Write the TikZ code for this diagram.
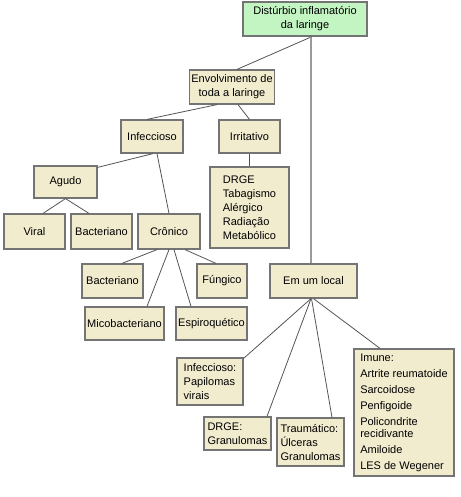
\documentclass[tikz,border=0pt]{standalone}
\usepackage{fontspec}
\setmainfont{Liberation Sans}
\definecolor{boxfill}{HTML}{F2ECCF}
\definecolor{rootfill}{HTML}{C3F5C3}
\definecolor{boxline}{HTML}{747474}
\definecolor{linkline}{HTML}{555555}
\definecolor{trunkline}{HTML}{9A9A9A}
\tikzset{
  box/.style={draw=boxline, fill=boxfill, line width=1.2pt, inner sep=2pt,
    font=\fontsize{11}{14}\selectfont, align=center},
  rootbox/.style={box, fill=rootfill},
  listbox/.style={box, align=left},
  link/.style={draw=linkline, line width=0.8pt},
  trunk/.style={draw=trunkline, line width=1.8pt}
}
\begin{document}
\begin{tikzpicture}[x=1pt,y=-1pt]

\fill[white] (0,0) rectangle (460,497);
\useasboundingbox (0,0) rectangle (460,497);

%ROOT
\node[rootbox, minimum width=124pt, minimum height=34pt] (root) at (305,19) {Distúrbio inflamatório\\da laringe};

%WHOLE LARYNX
\node[box, minimum width=84pt, minimum height=34pt] (envolv) at (232,87) {Envolvimento de\\toda a laringe};
\node[box, minimum width=62pt, minimum height=33pt] (infec) at (152,136.5) {Infeccioso};
\node[box, minimum width=61pt, minimum height=33pt] (irrit) at (249.5,136.5) {Irritativo};
\node[box, minimum width=63pt, minimum height=32pt] (agudo) at (65.5,182) {Agudo};
\node[box, minimum width=61pt, minimum height=35pt] (viral) at (34.5,231.5) {Viral};
\node[box, minimum width=61pt, minimum height=35pt] (bact) at (101.5,231.5) {Bacteriano};
\node[box, minimum width=62pt, minimum height=35pt] (cronico) at (169,231.5) {Crônico};
\node[listbox, minimum width=79pt, minimum height=81pt] (lista) at (249.5,207.5) {DRGE\\Tabagismo\\Alérgico\\Radiação\\Metabólico};
\node[box, minimum width=61pt, minimum height=34pt] (bact2) at (112.5,281) {Bacteriano};
\node[box, minimum width=50pt, minimum height=34pt] (fungico) at (222,281) {Fúngico};
\node[box, minimum width=79pt, minimum height=33pt] (micob) at (124.5,323.5) {Micobacteriano};
\node[box, minimum width=71pt, minimum height=33pt] (espiro) at (211.5,323.5) {Espiroquético};

%ONE SITE
\node[box, minimum width=87pt, minimum height=34pt] (local) at (313.5,281) {Em um local};
\node[listbox, minimum width=66pt, minimum height=47pt] (papil) at (210,381.5) {Infeccioso:\\Papilomas\\virais};
\node[listbox, minimum width=67pt, minimum height=33pt] (granul) at (237.5,433.5) {DRGE:\\Granulomas};
\node[listbox, minimum width=67pt, minimum height=48pt] (traum) at (310.5,442) {Traumático:\\Úlceras\\Granulomas};
\node[listbox, minimum width=100pt, minimum height=127pt, font=\fontsize{11}{12}\selectfont] (imune) at (404,412.5)
  {Imune:\\[4pt]Artrite reumatoide\\[4pt]Sarcoidose\\[4pt]Penfigoide\\[4pt]Policondrite\\recidivante\\[4pt]Amiloide\\[4pt]LES de Wegener};

%LINKS
\draw[link] ([xshift=7pt]root.south) -- ([xshift=5pt]envolv.north);
\draw[trunk] ([xshift=6pt]root.south) -- ([xshift=-2.5pt]local.north);
\draw[link] ([xshift=-15pt]envolv.south) -- ([xshift=-5pt]infec.north);
\draw[link] ([xshift=6pt]envolv.south) -- (irrit.north);
\draw[link] ([xshift=1pt]infec.south) -- ([yshift=-2pt]agudo.north east);
\draw[link] ([xshift=5pt]infec.south) -- (cronico.north);
\draw[link] (irrit.south) -- (lista.north);
\draw[link] (agudo.south) -- ([xshift=8.5pt]viral.north);
\draw[link] (agudo.south) -- ([xshift=-12.5pt]bact.north);
\draw[link] ([xshift=-12pt]cronico.south) -- ([xshift=9.5pt]bact2.north);
\draw[link] (cronico.south) -- ([xshift=22.5pt]micob.north);
\draw[link] ([xshift=5pt]cronico.south) -- ([xshift=-20.5pt]espiro.north);
\draw[link] ([xshift=16pt]cronico.south) -- ([xshift=-6pt]fungico.north);
\draw[link] ([xshift=-2.5pt]local.south) -- ([yshift=-1pt]papil.north east);
\draw[link] ([xshift=-2.5pt]local.south) -- ([xshift=29.5pt]granul.north);
\draw[link] ([xshift=-2pt]local.south) -- ([xshift=21.5pt]traum.north);
\draw[link] (local.south) -- ([xshift=-24pt]imune.north);

\end{tikzpicture}
\end{document}
